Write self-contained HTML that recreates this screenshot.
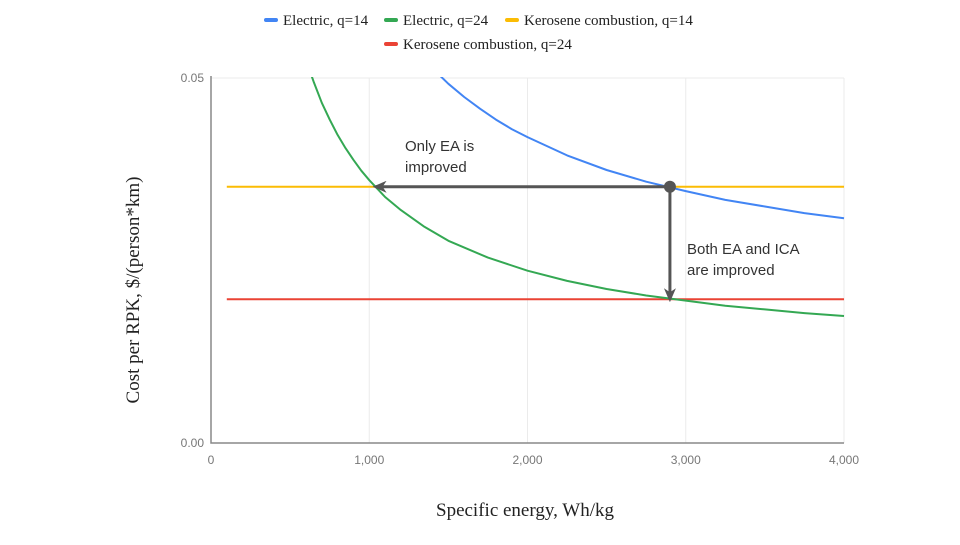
<!DOCTYPE html>
<html><head><meta charset="utf-8"><style>
body{margin:0;background:#fff;width:960px;height:540px;overflow:hidden}
svg text{font-family:"Liberation Sans",sans-serif}
svg text.serif,svg .serif text{font-family:"Liberation Serif",serif}
</style></head><body>
<svg id="chart" width="960" height="540" xmlns="http://www.w3.org/2000/svg">
<defs><clipPath id="clip"><rect x="211" y="77" width="634" height="366"/></clipPath>
<marker id="arr" markerWidth="14" markerHeight="12" refX="11" refY="6" orient="auto" markerUnits="userSpaceOnUse"><path d="M0,0 L14,6 L0,12 L4,6 Z" fill="#555"/></marker></defs>
<g id="grid"></g><g id="series" clip-path="url(#clip)"></g><g id="axes"></g><g id="annot"></g>
</svg>
<script>
const xTicks=[0,1000,2000,3000,4000];
const xTickLabels=["0","1,000","2,000","3,000","4,000"];
const yTicks=[0,0.05];
const yTickLabels=["0.00","0.05"];
const blueX=[1400,1500,1600,1700,1800,1900,2000,2250,2500,2750,3000,3250,3500,3750,4000];
const blueY=[0.0513,0.0492,0.0474,0.0458,0.0443,0.0430,0.0419,0.0394,0.0374,0.0358,0.0345,0.0333,0.0324,0.0315,0.0308];
const greenX=[600,650,700,750,800,850,900,950,1000,1100,1200,1350,1500,1750,2000,2250,2500,2750,3000,3250,3500,3750,4000];
const greenY=[0.0525,0.0494,0.0466,0.0443,0.0422,0.0404,0.0388,0.0373,0.0360,0.0337,0.0319,0.0296,0.0277,0.0254,0.0236,0.0222,0.0211,0.0202,0.0195,0.0188,0.0183,0.0178,0.0174];
const keroX=[100,4000];
const kero14=[0.0351,0.0351];
const kero24=[0.0197,0.0197];
const pivot=[2900,0.0351];
const arrowLeftX=1040;
const arrowDownY=0.0197;
const X0=211,X1=844,Y0=443,Y1=78;
const sx=v=>X0+(X1-X0)*v/4000;
const sy=v=>Y0-(Y0-Y1)*v/0.05;
const NS="http://www.w3.org/2000/svg";
function mk(tag,attrs,parent,txt){const e=document.createElementNS(NS,tag);for(const k in attrs)e.setAttribute(k,attrs[k]);if(txt!==undefined)e.textContent=txt;document.getElementById(parent).appendChild(e);return e;}
xTicks.forEach((t,i)=>{
 if(t>0){const g=mk('line',{x1:sx(t),x2:sx(t),y1:Y1,y2:Y0,stroke:'#ebebeb'},'grid');
 
 }
 const l=mk('text',{x:sx(t),y:Y0+21,'text-anchor':'middle','font-size':12,fill:'#777'},'axes',xTickLabels[i]);
 
 
});
yTicks.forEach((t,i)=>{
 if(t>0){const g=mk('line',{x1:X0,x2:X1,y1:sy(t),y2:sy(t),stroke:'#ebebeb'},'grid');
 
 }
 const l=mk('text',{x:X0-7,y:sy(t)+4,'text-anchor':'end','font-size':12,fill:'#777'},'axes',yTickLabels[i]);
 
 
});
const ax=mk('path',{d:`M${X0},${Y1-2} V${Y0} H${X1}`,stroke:'#888',fill:'none','stroke-width':1.5},'axes');


function line(xs,ys,color,name){
 const d=xs.map((x,i)=>(i?'L':'M')+sx(x).toFixed(1)+','+sy(ys[i]).toFixed(1)).join(' ');
 const p=mk('path',{d,stroke:color,fill:'none','stroke-width':2,'stroke-linejoin':'round'},'series');
 
 
}
line(keroX,kero14,'#fbbc04','kerosene-q14-line');
line(keroX,kero24,'#ea4335','kerosene-q24-line');
line(greenX,greenY,'#34a853','electric-q24-line');
line(blueX,blueY,'#4285f4','electric-q14-line');
const a1=mk('line',{x1:sx(pivot[0]),y1:sy(pivot[1]),x2:sx(arrowLeftX),y2:sy(pivot[1]),stroke:'#555','stroke-width':3,'marker-end':'url(#arr)'},'annot');


const a2=mk('line',{x1:sx(pivot[0]),y1:sy(pivot[1]),x2:sx(pivot[0]),y2:sy(arrowDownY),stroke:'#555','stroke-width':3,'marker-end':'url(#arr)'},'annot');


const c=mk('circle',{cx:sx(pivot[0]),cy:sy(pivot[1]),r:6,fill:'#555'},'annot');


</script>
<svg style="position:absolute;left:0;top:0" width="960" height="540">
<text x="405" y="151" font-size="15" fill="#333">Only EA is</text>
<text x="405" y="172" font-size="15" fill="#333">improved</text>
<text x="687" y="254" font-size="15" fill="#333">Both EA and ICA</text>
<text x="687" y="275" font-size="15" fill="#333">are improved</text>
<text class="serif" x="525" y="516" font-size="19" text-anchor="middle" fill="#222">Specific energy, Wh/kg</text>
<text class="serif" transform="translate(139,290) rotate(-90)" font-size="19" text-anchor="middle" fill="#222">Cost per RPK, $/(person*km)</text>
<g class="serif" font-size="15" fill="#222">
<rect x="264" y="18" width="14" height="4" rx="2" fill="#4285f4"/>
<text x="283" y="25">Electric, q=14</text>
<rect x="384" y="18" width="14" height="4" rx="2" fill="#34a853"/>
<text x="403" y="25">Electric, q=24</text>
<rect x="505" y="18" width="14" height="4" rx="2" fill="#fbbc04"/>
<text x="524" y="25">Kerosene combustion, q=14</text>
<rect x="384" y="42" width="14" height="4" rx="2" fill="#ea4335"/>
<text x="403" y="49">Kerosene combustion, q=24</text>
</g>
</svg>
</body></html>
